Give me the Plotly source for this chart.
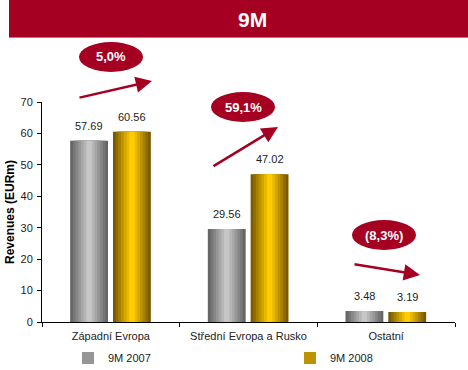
import plotly.graph_objects as go

categories = ["Západní Evropa", "Střední Evropa a Rusko", "Ostatní"]
series_names = ["9M 2007", "9M 2008"]
values_2007 = [57.69, 29.56, 3.48]
values_2008 = [60.56, 47.02, 3.19]
growth_labels = ["5,0%", "59,1%", "(8,3%)"]
y_tick_values = [0, 10, 20, 30, 40, 50, 60, 70]
title_text = "9M"
y_title = "Revenues (EURm)"

W, H = 468, 370
L, R, T, B = 42, 13, 102, 48
PW, PH = W - L - R, H - T - B


def px(x):
    return (x - L) / PW


def py(y):
    return (H - B - y) / PH


def hex2rgb(h):
    h = h.lstrip("#")
    return tuple(int(h[i:i + 2], 16) for i in (0, 2, 4))


def lerp(c1, c2, t):
    a, b = hex2rgb(c1), hex2rgb(c2)
    return "rgb(%d,%d,%d)" % tuple(round(a[i] + (b[i] - a[i]) * t) for i in range(3))


RED = "#A50021"
FONT = "Liberation Sans, Arial, sans-serif"
BAR_W = 0.275
series = [
    (series_names[0], values_2007, "#666666", "#C6C6C6", -0.158, "legend", 68),
    (series_names[1], values_2008, "#7A5A00", "#FFCC00", 0.153, "legend2", 290),
]
LAYERS = 7

fig = go.Figure()
for name, vals, edge, center, cpos, leg, _ in series:
    for k in range(LAYERS):
        t = k / (LAYERS - 1)
        w = BAR_W * (1 - k / LAYERS)
        fig.add_trace(go.Bar(
            x=categories, y=vals, name=name,
            width=w, offset=cpos - w / 2,
            marker=dict(color=lerp(edge, center, t), line=dict(width=0)),
            showlegend=(k == 3), legendgroup=name, legend=leg,
            hoverinfo="skip" if k else None,
        ))
    for i, v in enumerate(vals):
        fig.add_annotation(x=i + cpos, y=v, xref="x", yref="y", text=f"{v:.2f}",
                           showarrow=False, xanchor="center", yanchor="bottom", yshift=7,
                           font=dict(family=FONT, size=11, color="#222"))

# header banner
fig.add_shape(type="rect", xref="paper", yref="paper", x0=px(9), x1=px(470), y0=py(37), y1=py(-2),
              fillcolor=RED, line=dict(width=0), layer="below")
fig.add_shape(type="line", xref="paper", yref="paper", x0=px(9), x1=px(470), y0=py(37.5), y1=py(37.5),
              line=dict(color="#D97080", width=1))
fig.add_annotation(xref="paper", yref="paper", x=px(252), y=py(20), text=f"<b>{title_text}</b>",
                   xanchor="center", yanchor="middle",
                   showarrow=False, font=dict(family=FONT, size=21, color="white"))

# growth ellipses and arrows
ellipses = [(111, 57), (243, 107), (384, 235)]
arrows = [((78, 98), (152, 81)), ((212, 167), (278, 127)), ((353, 264), (420, 275))]
for lab, (cx, cy), ((sx, sy), (tx, ty)) in zip(growth_labels, ellipses, arrows):
    fig.add_shape(type="circle", xref="paper", yref="paper",
                  x0=px(cx - 32), x1=px(cx + 32), y0=py(cy + 15), y1=py(cy - 15),
                  fillcolor=RED, line=dict(width=0))
    fig.add_annotation(xref="paper", yref="paper", x=px(cx), y=py(cy), text=f"<b>{lab}</b>",
                       xanchor="center", yanchor="middle",
                       showarrow=False, font=dict(family=FONT, size=13, color="white"))
    fig.add_annotation(xref="paper", yref="paper", x=px(tx), y=py(ty), text="",
                       showarrow=True, ax=sx - tx, ay=sy - ty,
                       arrowhead=2, arrowsize=1.3, arrowwidth=2.5, arrowcolor=RED)

leg_common = dict(orientation="h", yanchor="middle", xanchor="left",
                  font=dict(size=11, color="#222"), bgcolor="rgba(0,0,0,0)")
fig.update_layout(
    width=W, height=H, margin=dict(l=L, r=R, t=T, b=B, autoexpand=False),
    paper_bgcolor="white", plot_bgcolor="white",
    barmode="overlay",
    font=dict(family=FONT, size=11, color="#222"),
    showlegend=True,
    legend=dict(x=px(series[0][6]), y=py(358), **leg_common),
    legend2=dict(x=px(series[1][6]), y=py(358), **leg_common),
    xaxis=dict(type="category", tickson="boundaries", ticks="outside", ticklen=4,
               tickcolor="#000", showline=True, linecolor="#000", linewidth=1,
               showgrid=False, range=[-0.5, 2.5], tickfont=dict(size=11, color="#222"),
               ticklabelstandoff=4),
    yaxis=dict(range=[0, 70], tickvals=y_tick_values, ticks="outside", ticklen=4,
               tickcolor="#000", showline=True, linecolor="#000", linewidth=1,
               showgrid=False, zeroline=False, tickfont=dict(size=11, color="#222"),
               ticklabelstandoff=2,
               title=dict(text=f"<b>{y_title}</b>", font=dict(size=12, color="#000"), standoff=3)),
)

fig.write_html("out.html", config={"displayModeBar": False},
               post_script="document.body.style.margin='0';document.body.style.padding='0';")
